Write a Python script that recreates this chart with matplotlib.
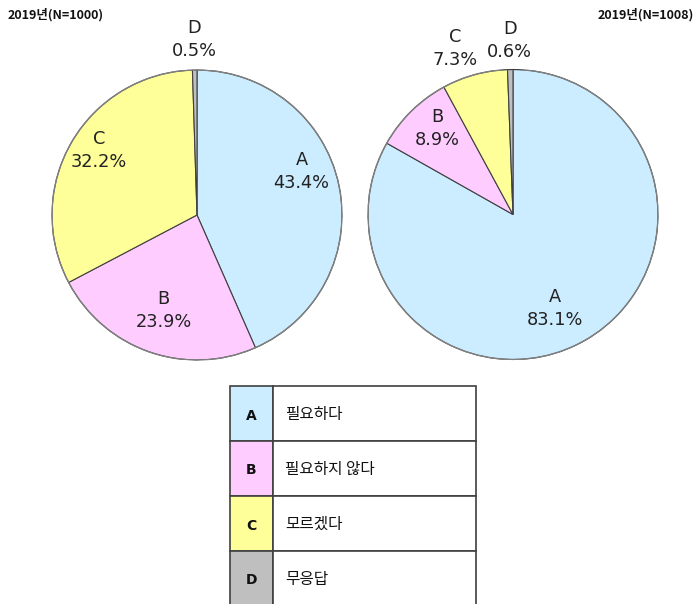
import matplotlib
matplotlib.use("Agg")
import matplotlib.pyplot as plt
import matplotlib.patches as mpatches
import numpy as np

# ── Data ──────────────────────────────────────────────────────────────────────
CATS      = ["A", "B", "C", "D"]
CAT_NAMES = ["필요하다", "필요하지 않다", "모르겠다", "무응답"]
LEFT_VALS  = [43.4, 23.9, 32.2, 0.5]
RIGHT_VALS = [83.1, 8.9, 7.3, 0.6]
LEFT_TITLE  = "2019년(N=1000)"
RIGHT_TITLE = "2019년(N=1008)"

# ── Style ─────────────────────────────────────────────────────────────────────
COLORS = ["#CCECFF", "#FFCCFF", "#FFFF99", "#BFBFBF"]
EDGE   = "#404040"
TXT    = "#222222"
KR     = ["Noto Sans CJK KR", "DejaVu Sans"]

# label placement (radius in pie units, angle shift in degrees) per wedge
LEFT_LBL_R    = [0.78, 0.70, 0.81, 1.21]
LEFT_LBL_DA   = [10.6, 0.0, -3.0, 0.0]
RIGHT_LBL_R   = [0.71, 0.79, 1.21, 1.20]
RIGHT_LBL_DA  = [-6.4, -3.0, 4.0, 0.0]

W, H = 697, 604
fig = plt.figure(figsize=(W / 100, H / 100), dpi=100)
fig.patch.set_facecolor("white")


def px_axes(x0, y0, x1, y1):
    # axes from pixel box (top-left origin)
    return fig.add_axes([x0 / W, 1 - y1 / H, (x1 - x0) / W, (y1 - y0) / H])


def draw_pie(ax, vals, radii, dangs):
    wedges, _ = ax.pie(vals, colors=COLORS, startangle=90, counterclock=False,
                       radius=1.0, wedgeprops=dict(edgecolor=EDGE, linewidth=0.8))
    ax.add_patch(mpatches.Circle((0, 0), 1.0, fill=False, edgecolor="#808080",
                                 linewidth=1.0, zorder=5))
    for w, cat, v, r, da in zip(wedges, CATS, vals, radii, dangs):
        ang = np.deg2rad((w.theta1 + w.theta2) / 2 + da)
        ax.text(r * np.cos(ang), r * np.sin(ang), f"{cat}\n{v:.1f}%",
                ha="center", va="center", fontsize=12.8, color=TXT,
                linespacing=1.35, family="DejaVu Sans")
    ax.set_xlim(-1, 1)
    ax.set_ylim(-1, 1)
    ax.set_aspect("equal")
    ax.axis("off")


ax_l = px_axes(52, 70, 342, 360)
draw_pie(ax_l, LEFT_VALS, LEFT_LBL_R, LEFT_LBL_DA)

ax_r = px_axes(368, 69.5, 658, 359.5)
draw_pie(ax_r, RIGHT_VALS, RIGHT_LBL_R, RIGHT_LBL_DA)

fig.text(8 / W, 1 - 15 / H, LEFT_TITLE, ha="left", va="center",
         fontsize=9, fontweight="bold", family=KR, color="#111111")
fig.text(694 / W, 1 - 15 / H, RIGHT_TITLE, ha="right", va="center",
         fontsize=9, fontweight="bold", family=KR, color="#111111")

# ── Legend table ──────────────────────────────────────────────────────────────
tab = fig.add_axes([0, 0, 1, 1])
tab.set_xlim(0, W)
tab.set_ylim(H, 0)
tab.axis("off")

TX0, TX1, TX2 = 230, 273, 475.5
TY0, ROW_H = 386, 55
for i, (cat, name, c) in enumerate(zip(CATS, CAT_NAMES, COLORS)):
    y = TY0 + i * ROW_H
    tab.add_patch(mpatches.Rectangle((TX0, y), TX1 - TX0, ROW_H, facecolor=c,
                                     edgecolor=EDGE, linewidth=1.2))
    tab.add_patch(mpatches.Rectangle((TX1, y), TX2 - TX1, ROW_H, facecolor="white",
                                     edgecolor=EDGE, linewidth=1.2))
    tab.text((TX0 + TX1) / 2, y + ROW_H / 2 + 2, cat, ha="center", va="center",
             fontsize=10, fontweight="bold", family="DejaVu Sans", color="#111111")
    tab.text(TX1 + 12, y + ROW_H / 2 + 1, name, ha="left", va="center",
             fontsize=11.3, family=KR, color="#111111")

fig.savefig("out.png", dpi=100, facecolor="white")
